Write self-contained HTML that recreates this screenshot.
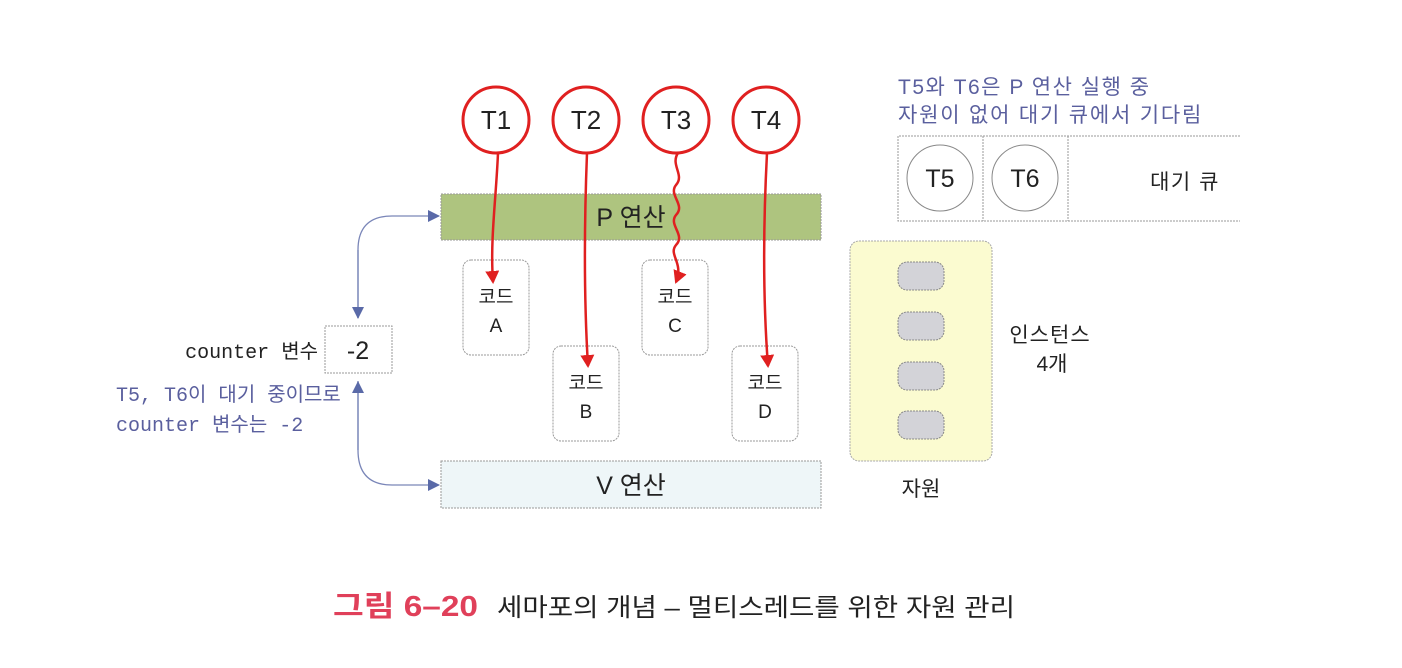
<!DOCTYPE html>
<html><head><meta charset="utf-8"><style>
html,body{margin:0;padding:0;background:#fff;}
svg{display:block;}
text{font-family:"Liberation Sans","Noto Sans CJK KR",sans-serif;}
.m{font-family:"Liberation Mono","Noto Sans CJK KR",monospace;}
</style></head><body>
<svg width="1402" height="668" viewBox="0 0 1402 668">
<defs>
<marker id="ra" markerWidth="14" markerHeight="14" refX="11" refY="7" orient="auto" markerUnits="userSpaceOnUse"><path d="M0,0 L13,7 L0,14 z" fill="#e02020"/></marker>
<marker id="ba" markerWidth="12" markerHeight="12" refX="11" refY="6" orient="auto" markerUnits="userSpaceOnUse"><path d="M0,0 L12,6 L0,12 z" fill="#5a6aa8"/></marker>
</defs>
<rect x="441" y="194" width="380" height="46" fill="#aec47f" stroke="#999" stroke-dasharray="2,1"/>
<text x="631" y="226" font-size="25" text-anchor="middle" fill="#222">P 연산</text>
<rect x="441" y="461" width="380" height="47" fill="#eef6f8" stroke="#999" stroke-dasharray="2,1"/>
<text x="631" y="494" font-size="25" text-anchor="middle" fill="#222">V 연산</text>
<g fill="#fff" stroke="#999" stroke-dasharray="2,1">
<rect x="463" y="260" width="66" height="95" rx="8"/>
<rect x="642" y="260" width="66" height="95" rx="8"/>
<rect x="553" y="346" width="66" height="95" rx="8"/>
<rect x="732" y="346" width="66" height="95" rx="8"/>
</g>
<g font-size="19" text-anchor="middle" fill="#222">
<text x="496" y="303">코드</text><text x="496" y="332">A</text>
<text x="675" y="303">코드</text><text x="675" y="332">C</text>
<text x="586" y="389">코드</text><text x="586" y="418">B</text>
<text x="765" y="389">코드</text><text x="765" y="418">D</text>
</g>
<g fill="none" stroke="#e02020" stroke-width="2.5">
<path d="M498,153 C496,200 490,240 493,282" marker-end="url(#ra)"/>
<path d="M587,153 C584,230 584,300 588,366" marker-end="url(#ra)"/>
<path d="M678,153 C670,165 685,175 676,185 C668,195 686,205 676,215 C668,225 686,235 676,245 C668,255 684,262 676,282" marker-end="url(#ra)"/>
<path d="M767,153 C763,230 763,300 768,366" marker-end="url(#ra)"/>
</g>
<g fill="#fff" stroke="#e02020" stroke-width="3">
<circle cx="496" cy="120" r="33"/><circle cx="586" cy="120" r="33"/>
<circle cx="676" cy="120" r="33"/><circle cx="766" cy="120" r="33"/>
</g>
<g font-size="26" text-anchor="middle" fill="#222">
<text x="496" y="129">T1</text><text x="586" y="129">T2</text>
<text x="676" y="129">T3</text><text x="766" y="129">T4</text>
</g>
<rect x="325" y="326" width="67" height="47" fill="#fff" stroke="#999" stroke-dasharray="2,1"/>
<text x="358" y="359" font-size="25" text-anchor="middle" fill="#222">-2</text>
<text x="318" y="358" font-size="20" text-anchor="end" fill="#222" class="m">counter 변수</text>
<g fill="none" stroke="#7a86b8" stroke-width="1.3">
<path d="M358,318 L358,250 Q358,216 392,216 L439,216" marker-end="url(#ba)"/>
<path d="M358,250 L358,318" marker-end="url(#ba)"/>
<path d="M358,381 L358,450 Q358,485 392,485 L439,485" marker-end="url(#ba)"/>
<path d="M358,450 L358,382" marker-end="url(#ba)"/>
</g>
<text x="116" y="401" font-size="20" fill="#5a5f9e" class="m">T5, T6이 대기 중이므로</text>
<text x="116" y="431" font-size="20" fill="#5a5f9e" class="m">counter 변수는 -2</text>
<text x="898" y="94" font-size="21" letter-spacing="1.5" fill="#5a5f9e">T5와 T6은 P 연산 실행 중</text>
<text x="898" y="122" font-size="21" letter-spacing="1.8" fill="#5a5f9e">자원이 없어 대기 큐에서 기다림</text>
<g stroke="#999" stroke-dasharray="2,1" fill="none">
<path d="M1240,136 L898,136 L898,221 L1240,221"/>
<path d="M983,136 L983,221 M1068,136 L1068,221"/>
</g>
<circle cx="940" cy="178" r="33" fill="#fff" stroke="#888"/>
<circle cx="1025" cy="178" r="33" fill="#fff" stroke="#888"/>
<text x="940" y="187" font-size="25" text-anchor="middle" fill="#222">T5</text>
<text x="1025" y="187" font-size="25" text-anchor="middle" fill="#222">T6</text>
<text x="1185" y="189" font-size="21" letter-spacing="1.5" text-anchor="middle" fill="#222">대기 큐</text>
<rect x="850" y="241" width="142" height="220" rx="9" fill="#fbfbd0" stroke="#aaa" stroke-dasharray="2,1"/>
<g fill="#d3d3d8" stroke="#888" stroke-dasharray="2,1">
<rect x="898" y="262" width="46" height="28" rx="9"/>
<rect x="898" y="312" width="46" height="28" rx="9"/>
<rect x="898" y="362" width="46" height="28" rx="9"/>
<rect x="898" y="411" width="46" height="28" rx="9"/>
</g>
<text x="1050" y="342" font-size="21" letter-spacing="1" text-anchor="middle" fill="#222">인스턴스</text>
<text x="1052" y="371" font-size="21" text-anchor="middle" fill="#222">4개</text>
<text x="921" y="496" font-size="21" text-anchor="middle" fill="#222">자원</text>
<text x="333" y="616" font-size="29" font-weight="bold" fill="#e0405a" textLength="145" lengthAdjust="spacingAndGlyphs">그림 6–20</text>
<text x="497" y="616" font-size="25" fill="#222" textLength="518" lengthAdjust="spacingAndGlyphs">세마포의 개념 – 멀티스레드를 위한 자원 관리</text>
</svg>
</body></html>
